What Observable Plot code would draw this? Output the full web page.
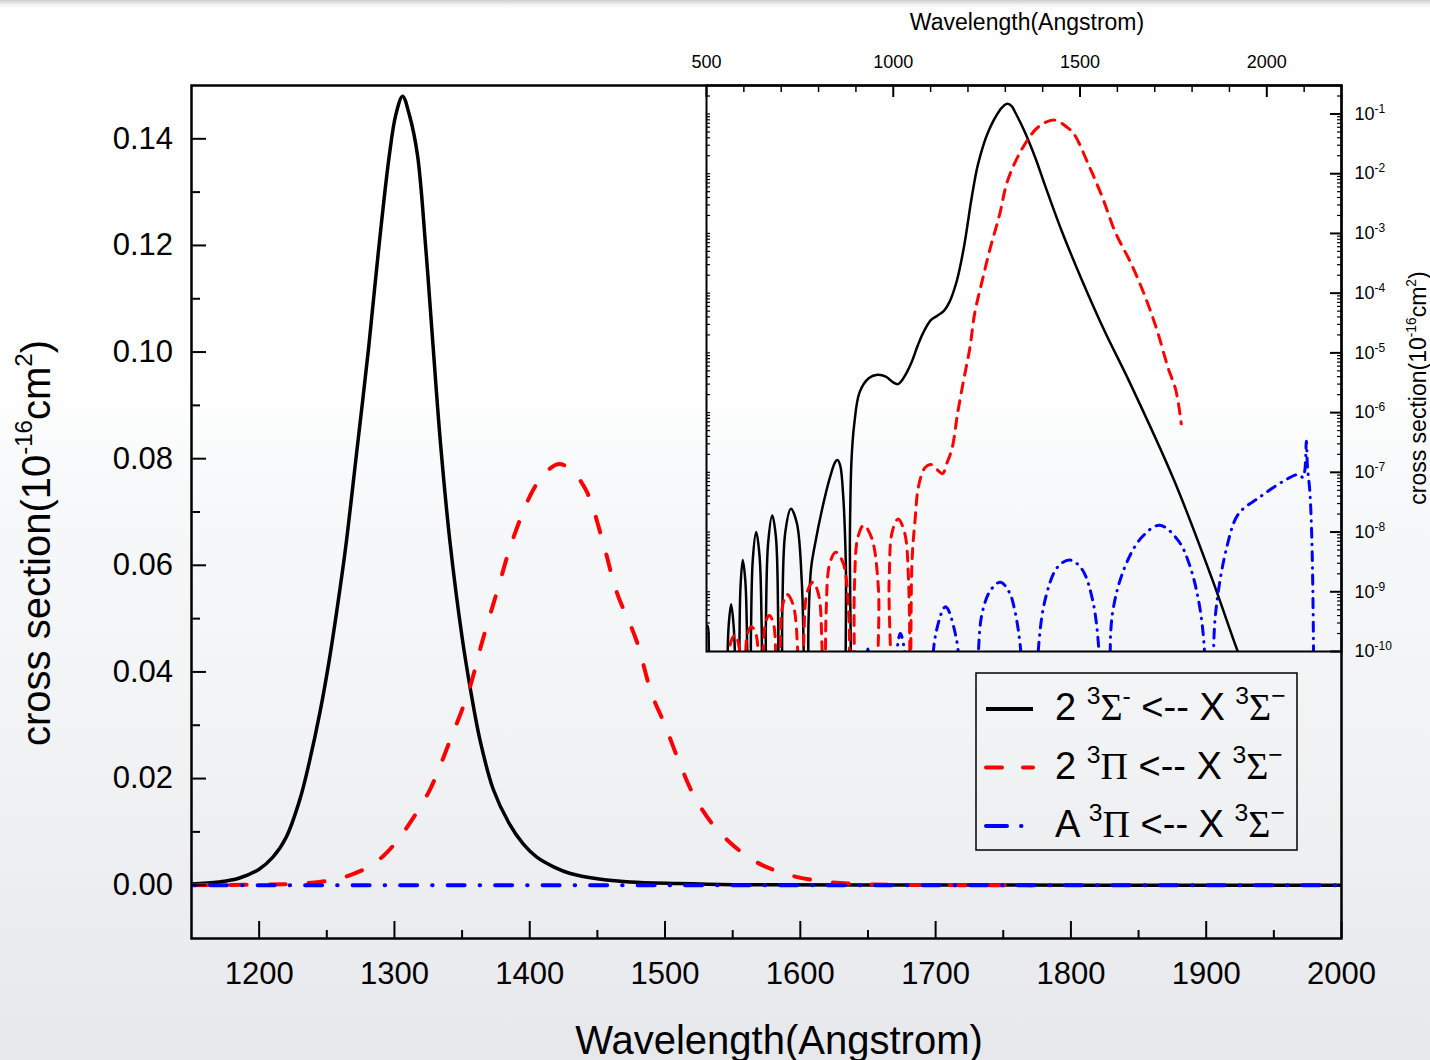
<!DOCTYPE html>
<html><head><meta charset="utf-8">
<script src="https://cdn.jsdelivr.net/npm/d3@7"></script>
<script src="https://cdn.jsdelivr.net/npm/@observablehq/plot@0.6"></script>
<style>
html,body{margin:0;padding:0;}
body{width:1430px;height:1060px;overflow:hidden;
background:linear-gradient(to bottom,#cfcfcf 0px,#f4f4f4 5px,#ffffff 9px,#ffffff 380px,#f8f9fa 480px,#f1f2f4 760px,#e6e8ec 1060px);}
#wrap{position:relative;width:1430px;height:1060px;}
#wrap svg{position:absolute;}
</style></head><body><div id="wrap"></div>
<script>
// ---------- Main panel data (linear scale) ----------
const mainBlackWl = [1150,1170,1185,1200,1210,1220,1230,1237,1245,1252,1258,1264,1272,1281,1288,1296,1301,1306,1311,1317,1323,1328,1334,1341,1350,1356,1363,1373,1385,1395,1405,1418,1430,1450,1474,1510,1550,1650,2000];
const mainBlackVal = [0.0002,0.0006,0.0013,0.0030,0.0052,0.0090,0.0160,0.0230,0.0325,0.0425,0.0525,0.0635,0.0810,0.1010,0.1185,0.1365,0.1445,0.1480,0.1445,0.1370,0.1200,0.1030,0.0830,0.0645,0.0465,0.0370,0.0275,0.0180,0.0115,0.0078,0.0053,0.0034,0.0022,0.0012,0.0006,0.0003,0.0001,0.00003,0];
const mainRedWl = [1150,1200,1230,1250,1264,1280,1291,1301,1311,1326,1341,1355,1365,1376,1387,1402,1412,1422,1432,1442,1454,1464,1479,1490,1500,1510,1522,1539,1565,1592,1620,1646,1680,1720,1771];
const mainRedVal = [0,0.0001,0.0003,0.0008,0.0016,0.0033,0.0053,0.0080,0.0115,0.0178,0.0271,0.0365,0.0458,0.0552,0.0645,0.0739,0.0775,0.0790,0.0775,0.0739,0.0645,0.0552,0.0458,0.0360,0.0300,0.0234,0.0165,0.0103,0.0047,0.0019,0.0006,0.0002,0.00005,0.00001,0];

// ---------- Inset data (log scale) ----------
const insetBlackWl = [500,503,507,510,552,555,559,566,573,579,582,585,588,591,597,604,609,612,615,619,624,633,642,648,652,655,659,665,676,686,692,696,698,703,711,726,742,755,761,764,768,773,780,790,810,830,845,851,858,866,873,878,881,884,888,895,910,935,958,980,1000,1012,1025,1047,1065,1079,1100,1118,1135,1150,1170,1189,1210,1227,1254,1287,1296,1306,1317,1327,1351,1381,1402,1451,1506,1566,1631,1752,1855,1921,1960,2000];
const insetBlackVal = [2.5e-10,2.7e-10,6e-11,1e-12,1e-12,2e-11,2.5e-10,6.2e-10,2.5e-10,2e-11,1e-12,1e-12,1e-10,1.2e-9,3.4e-9,1.5e-9,1e-10,1e-12,1e-12,2e-10,3.5e-9,1e-8,4e-9,2e-10,1e-12,1e-12,3e-10,6.5e-9,1.9e-8,8e-9,3e-10,1e-12,1e-12,5e-10,1e-8,2.45e-8,1.4e-8,1.5e-9,5e-11,1e-12,1e-12,3e-10,2.5e-9,6e-9,2.5e-8,8e-8,1.5e-7,1.6e-7,1.3e-7,4e-8,3e-9,1e-12,1e-12,1e-8,1.5e-7,6e-7,2.2e-6,3.8e-6,4.3e-6,4e-6,3.2e-6,3e-6,3.6e-6,6.5e-6,1.3e-5,2.1e-5,3.5e-5,4.2e-5,5e-5,7e-5,1.6e-4,5.8e-4,4e-3,1.45e-2,5e-2,0.12,0.138,0.148,0.135,0.105,0.052,0.018,7.6e-3,1.1e-3,1.6e-4,2.3e-5,3.4e-6,7.3e-8,1.55e-9,1.05e-10,2.5e-11,5e-12];
const insetRedWl = [552,556,566,577,587,594,597,599,603,610,620,632,640,644,647,651,658,668,679,686,690,693,697,704,716,732,745,751,755,760,770,785,800,809,813,815,820,830,846,866,881,887,891,896,905,921,942,960,966,985,989,997,1013,1030,1041,1046,1050,1058,1068,1085,1100,1118,1132,1145,1158,1172,1188,1205,1218,1238,1260,1285,1306,1347,1390,1432,1465,1484,1522,1560,1593,1637,1675,1707,1735,1757,1771];
const insetRedVal = [1e-12,2e-11,1.5e-10,1.9e-10,1.2e-10,2e-11,1e-12,1e-12,3e-11,2e-10,2.6e-10,2e-10,3e-11,1e-12,1e-12,4e-11,3e-10,4e-10,3e-10,4e-11,1e-12,1e-12,8e-11,6e-10,9e-10,6e-10,8e-11,1e-12,1e-12,1.3e-10,1e-9,1.45e-9,9e-10,1.3e-10,1e-12,1e-12,4e-10,3e-9,4.6e-9,3e-9,4e-10,1e-12,1e-12,1.2e-9,8e-9,1.3e-8,8e-9,1.2e-9,1e-12,1e-12,1.5e-9,1e-8,1.65e-8,1e-8,1.5e-9,1e-12,3e-9,1.5e-8,6e-8,1.2e-7,1.35e-7,1.1e-7,9.5e-8,1.5e-7,2.6e-7,9.5e-7,3.4e-6,1.2e-5,4.6e-5,1.6e-4,5.8e-4,2.1e-3,7.6e-3,2.75e-2,6.2e-2,7.9e-2,6.0e-2,4.6e-2,1.45e-2,4e-3,1.1e-3,3.1e-4,8.5e-5,2.3e-5,5.8e-6,2.3e-6,6.5e-7];
const insetBlueWl = [918,925,932,939,946,997,1000,1007,1019,1034,1043,1046,1096,1101,1114,1140,1166,1184,1189,1222,1228,1238,1260,1287,1310,1325,1343,1353,1380,1388,1408,1440,1473,1505,1533,1552,1560,1576,1580,1587,1620,1664,1713,1763,1795,1823,1838,1844,1852,1856,1863,1893,1924,1980,2046,2085,2097,2102,2106,2109,2115,2120,2124,2127];
const insetBlueVal = [1e-12,3e-11,1.1e-10,3e-11,1e-12,1e-12,6e-12,7e-11,2e-10,7e-11,6e-12,1e-12,1e-12,1.7e-11,2e-10,5.6e-10,2e-10,1.7e-11,1e-12,1e-12,1e-10,4.4e-10,1.05e-9,1.45e-9,1e-9,5e-10,8e-11,1e-12,1e-12,1e-10,8e-10,2.6e-9,3.4e-9,2.4e-9,7.6e-10,8e-11,1e-12,1e-12,3e-11,4.4e-10,2.6e-9,8e-9,1.3e-8,7.2e-9,2.6e-9,4.4e-10,3e-11,1e-12,1e-12,3e-11,4.4e-10,5.6e-9,2e-8,3.8e-8,7.2e-8,9.2e-8,8.2e-8,1.1e-7,3.3e-7,1.2e-7,5e-8,1e-8,5e-10,1e-12];

// ---------- ticks ----------
const mainXMajor = [1200,1300,1400,1500,1600,1700,1800,1900,2000];
const mainXMinor = [1250,1350,1450,1550,1650,1750,1850,1950];
const mainYMajor = [0,0.02,0.04,0.06,0.08,0.10,0.12,0.14];
const mainYMinor = [0.01,0.03,0.05,0.07,0.09,0.11,0.13];
const insetXMajor = [500,1000,1500,2000];
const insetXMinor = [600,700,800,900,1100,1200,1300,1400,1600,1700,1800,1900,2100];
const insetYMajor = [1e-10,1e-9,1e-8,1e-7,1e-6,1e-5,1e-4,1e-3,1e-2,1e-1];
const insetYMinor = d3.range(-10,0).flatMap(e => d3.range(2,10).map(m => +(m*Math.pow(10,e)).toPrecision(3))).filter(v => v <= 0.3);

const xTitle = "Wavelength(Angstrom)";
const yTitleParts = [["cross section(10","n"],["-16","s"],["cm","n"],["2","s"],[")","n"]];
const legendRows = [
  {stroke:"#000000", dash:null, width:4, x2:1033, parts:[["2 ","n"],["3","s"],["Σ","g"],["-","s"],[" <-- X ","n"],["3","s"],["Σ","g"],["−","s"]]},
  {stroke:"#ff0000", dash:"16,21", width:4, x2:1033, parts:[["2 ","n"],["3","s"],["Π","g"],[" <-- X ","n"],["3","s"],["Σ","g"],["−","s"]]},
  {stroke:"#0000ff", dash:"21,14,0.5,60", width:4, x2:1026, parts:[["A ","n"],["3","s"],["Π","g"],[" <-- X ","n"],["3","s"],["Σ","g"],["−","s"]]}
];

const FONT = "'Liberation Sans', Arial, Helvetica, sans-serif";
const SERIF = "'Liberation Serif', 'Times New Roman', serif";
const rows = (wl, val) => wl.map((w, i) => ({w, v: val[i]}));
const mBlack = rows(mainBlackWl, mainBlackVal);
const mRed = rows(mainRedWl, mainRedVal);
const iBlack = rows(insetBlackWl, insetBlackVal);
const iRed = rows(insetRedWl, insetRedVal);
const iBlue = rows(insetBlueWl, insetBlueVal);
const blank = () => "";

const mainPlot = Plot.plot({
  width: 1430, height: 1060,
  marginLeft: 191, marginRight: 89, marginTop: 85, marginBottom: 122,
  style: {background: "none", fontFamily: FONT, fontSize: "31px", overflow: "visible", color: "#000"},
  x: {domain: [1150, 2000]},
  y: {domain: [-0.01, 0.15]},
  marks: [
    Plot.line(mBlack, {x: "w", y: "v", stroke: "#000", strokeWidth: 3.5, curve: "catmull-rom", clip: true}),
    Plot.line(mRed, {x: "w", y: "v", stroke: "#ff0000", strokeWidth: 4, strokeDasharray: "16,23", strokeLinecap: "round", curve: "catmull-rom", clip: true}),
    Plot.line(iBlue, {x: "w", y: "v", stroke: "#0000ff", strokeWidth: 4, strokeDasharray: "17,15,0.5,15", strokeLinecap: "round", clip: true}),
    Plot.frame({stroke: "#000", strokeWidth: 2.5}),
    Plot.axisX({ticks: mainXMajor, tickSize: -17, tickPadding: 40, tickFormat: d3.format("d"), fontSize: 31, label: null, strokeWidth: 2}),
    Plot.axisX({ticks: mainXMinor, tickSize: -8, tickFormat: blank, label: null, strokeWidth: 2}),
    Plot.axisY({ticks: mainYMajor, tickSize: -15, tickPadding: 33.5, tickFormat: d3.format(".2f"), fontSize: 31, label: null, strokeWidth: 2}),
    Plot.axisY({ticks: mainYMinor, tickSize: -9, tickFormat: blank, label: null, strokeWidth: 2})
  ]
});

const insetPlot = Plot.plot({
  width: 724, height: 651,
  marginLeft: 0, marginRight: 89, marginTop: 85, marginBottom: 0,
  style: {background: "none", fontFamily: FONT, fontSize: "18px", overflow: "visible", color: "#000"},
  x: {domain: [500, 2200]},
  y: {type: "log", domain: [1e-10, 0.3]},
  marks: [
    Plot.line(iBlack, {x: "w", y: "v", stroke: "#000", strokeWidth: 2.5, curve: "catmull-rom", clip: true}),
    Plot.line(iRed, {x: "w", y: "v", stroke: "#ff0000", strokeWidth: 3, strokeDasharray: "10,8", strokeLinecap: "round", curve: "catmull-rom", clip: true}),
    Plot.line(iBlue, {x: "w", y: "v", stroke: "#0000ff", strokeWidth: 3, strokeDasharray: "9,7,0.5,7", strokeLinecap: "round", curve: "catmull-rom", clip: true}),
    Plot.frame({stroke: "#000", strokeWidth: 2}),
    Plot.axisX({anchor: "top", ticks: insetXMajor, tickSize: -11, tickPadding: 29, tickFormat: d3.format("d"), fontSize: 18, label: null, strokeWidth: 2}),
    Plot.axisX({anchor: "top", ticks: insetXMinor, tickSize: -6, tickFormat: blank, label: null, strokeWidth: 1.5}),
    Plot.axisY({anchor: "right", ticks: insetYMajor, tickSize: -12, tickPadding: 25, tickFormat: d => "10^" + Math.round(Math.log10(d)), fontSize: 18, label: null, strokeWidth: 2}),
    Plot.axisY({anchor: "right", ticks: insetYMinor, tickSize: -5, tickFormat: blank, label: null, strokeWidth: 1.2}),
    Plot.axisY({anchor: "left", ticks: insetYMinor.concat(insetYMajor), tickSize: -4, tickFormat: blank, label: null, strokeWidth: 1.2})
  ]
});

const wrap = document.getElementById("wrap");
mainPlot.style.left = "0px"; mainPlot.style.top = "0px";
insetPlot.style.left = "706px"; insetPlot.style.top = "0px";
wrap.appendChild(mainPlot);
wrap.appendChild(insetPlot);

function richText(parent, {x, y, rotate = 0, size, anchor = "start", parts, supScale = 0.6, raise = 0.45}) {
  const t = parent.append("text")
    .attr("transform", `translate(${x},${y}) rotate(${rotate})`)
    .attr("font-size", size).attr("font-family", FONT)
    .attr("text-anchor", anchor).attr("fill", "#000");
  let cur = 0;
  for (const [s, k] of parts) {
    const target = k === "s" ? -size * raise : 0;
    const ts = t.append("tspan").attr("dy", target - cur).text(s);
    cur = target;
    if (k === "s") ts.attr("font-size", size * supScale);
    if (k === "g") ts.attr("font-family", SERIF);
  }
  return t;
}

// superscript exponents on the inset's log axis
d3.select(insetPlot).selectAll("text").each(function() {
  const s = this.textContent;
  if (!s.includes("^")) return;
  const [b, e] = s.split("^");
  const sel = d3.select(this);
  sel.text("");
  sel.append("tspan").text(b);
  sel.append("tspan").attr("dy", -7).attr("font-size", 12).text(e);
});

// titles
const ms = d3.select(mainPlot);
ms.append("text").attr("x", 779).attr("y", 1054).attr("text-anchor", "middle")
  .attr("font-size", 40).attr("font-family", FONT).attr("fill", "#000").text(xTitle);
richText(ms, {x: 50, y: 543, rotate: -90, size: 40, anchor: "middle", parts: yTitleParts});

const is = d3.select(insetPlot);
is.append("text").attr("x", 321).attr("y", 30).attr("text-anchor", "middle")
  .attr("font-size", 23).attr("font-family", FONT).attr("fill", "#000").text(xTitle);
richText(is, {x: 720, y: 388, rotate: -90, size: 23, anchor: "middle", parts: yTitleParts});

// legend
const lg = ms.append("g");
lg.append("rect").attr("x", 976).attr("y", 673).attr("width", 321).attr("height", 177)
  .attr("fill", "none").attr("stroke", "#000").attr("stroke-width", 1.5);
legendRows.forEach((r, i) => {
  const cy = 709 + i * 58.5;
  const ln = lg.append("line").attr("x1", 986).attr("x2", r.x2).attr("y1", cy).attr("y2", cy)
    .attr("stroke", r.stroke).attr("stroke-width", r.width).attr("stroke-linecap", r.dash ? "round" : "butt");
  if (r.dash) ln.attr("stroke-dasharray", r.dash);
  richText(lg, {x: 1055, y: cy + 11, size: 38, parts: r.parts, supScale: 0.65, raise: 0.42});
});
</script></body></html>
